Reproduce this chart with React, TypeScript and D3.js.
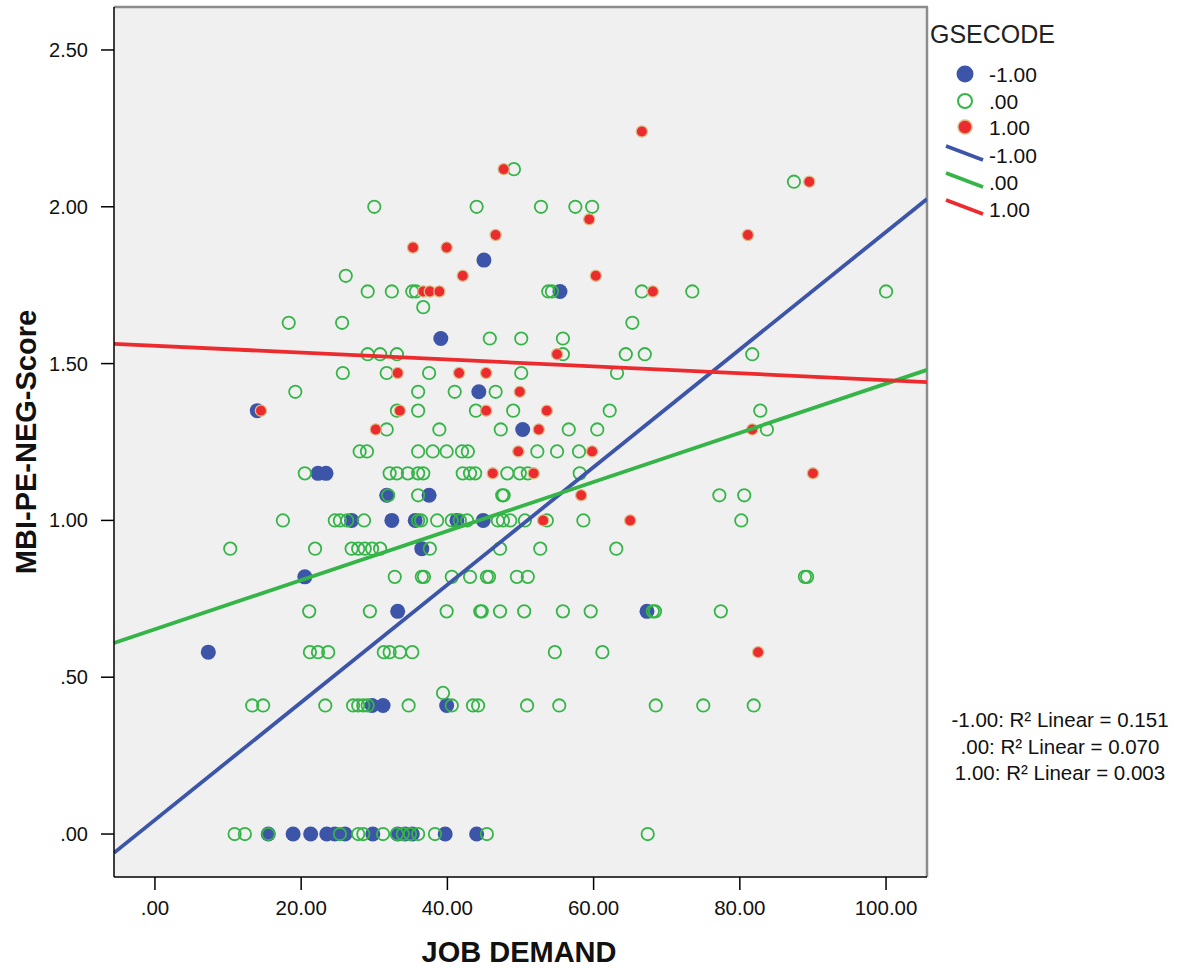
import React from "react";
import * as d3 from "d3";

// ---- data ----
const groupLabels = ["-1.00", ".00", "1.00"];
const groupColors = ["#3d55a8", "#35b548", "#ec2b2f"];

// GSECODE = -1.00 (filled blue)
const pointsNeg: [number, number][] = [
  [15.5, 0], [18.9, 0], [21.3, 0], [23.5, 0], [24.6, 0], [26.0, 0], [29.8, 0], [33.2, 0], [34.2, 0], [35.2, 0], [39.7, 0], [44.0, 0],
  [29.7, 0.41], [31.2, 0.41], [39.9, 0.41],
  [7.3, 0.58],
  [33.2, 0.71], [67.3, 0.71],
  [20.5, 0.82],
  [36.5, 0.91],
  [26.9, 1.0], [32.4, 1.0], [35.6, 1.0], [41.3, 1.0], [44.9, 1.0],
  [31.7, 1.08], [37.5, 1.08],
  [22.3, 1.15], [23.4, 1.15],
  [50.3, 1.29],
  [14.0, 1.35],
  [44.3, 1.41],
  [39.1, 1.58],
  [55.4, 1.73],
  [45.0, 1.83],
];

// GSECODE = .00 (open green)
const pointsZero: [number, number][] = [
  [10.9, 0], [12.3, 0], [15.5, 0], [25.3, 0], [27.8, 0], [28.5, 0], [31.2, 0], [33.1, 0], [33.9, 0], [34.9, 0], [36.0, 0], [38.3, 0], [45.4, 0], [67.4, 0],
  [39.4, 0.45],
  [13.3, 0.41], [14.8, 0.41], [23.3, 0.41], [27.1, 0.41], [27.8, 0.41], [28.5, 0.41], [29.1, 0.41], [34.7, 0.41], [40.6, 0.41], [43.5, 0.41], [44.2, 0.41], [50.9, 0.41], [55.3, 0.41], [68.5, 0.41], [75.0, 0.41], [81.9, 0.41],
  [21.2, 0.58], [22.3, 0.58], [23.7, 0.58], [31.3, 0.58], [32.1, 0.58], [33.5, 0.58], [35.2, 0.58], [54.7, 0.58], [61.2, 0.58],
  [21.1, 0.71], [29.4, 0.71], [39.9, 0.71], [44.5, 0.71], [44.7, 0.71], [47.2, 0.71], [50.5, 0.71], [55.8, 0.71], [59.6, 0.71], [68.1, 0.71], [68.4, 0.71], [77.4, 0.71],
  [32.8, 0.82], [36.5, 0.82], [36.8, 0.82], [40.6, 0.82], [43.1, 0.82], [45.4, 0.82], [45.7, 0.82], [49.5, 0.82], [51.0, 0.82], [88.9, 0.82], [89.2, 0.82],
  [10.3, 0.91], [21.9, 0.91], [26.9, 0.91], [27.8, 0.91], [28.7, 0.91], [29.7, 0.91], [30.8, 0.91], [37.6, 0.91], [47.2, 0.91], [52.7, 0.91], [63.1, 0.91],
  [17.5, 1.0], [24.6, 1.0], [25.3, 1.0], [26.3, 1.0], [28.6, 1.0], [36.0, 1.0], [36.4, 1.0], [38.6, 1.0], [40.6, 1.0], [41.7, 1.0], [42.7, 1.0], [46.9, 1.0], [47.6, 1.0], [48.6, 1.0], [50.6, 1.0], [53.6, 1.0], [58.6, 1.0], [80.2, 1.0],
  [31.9, 1.08], [36.0, 1.08], [47.5, 1.08], [47.7, 1.08], [77.2, 1.08], [80.6, 1.08],
  [20.5, 1.15], [32.1, 1.15], [33.1, 1.15], [34.6, 1.15], [36.0, 1.15], [36.7, 1.15], [42.1, 1.15], [43.1, 1.15], [43.8, 1.15], [48.2, 1.15], [49.9, 1.15], [51.0, 1.15], [58.1, 1.15],
  [28.0, 1.22], [29.0, 1.22], [36.0, 1.22], [38.0, 1.22], [39.9, 1.22], [42.0, 1.22], [42.8, 1.22], [52.3, 1.22], [55.0, 1.22], [58.0, 1.22],
  [31.7, 1.29], [38.9, 1.29], [47.3, 1.29], [56.6, 1.29], [60.5, 1.29], [83.7, 1.29],
  [33.1, 1.35], [36.0, 1.35], [43.9, 1.35], [49.0, 1.35], [62.2, 1.35], [82.8, 1.35],
  [19.2, 1.41], [36.0, 1.41], [41.0, 1.41], [46.6, 1.41],
  [25.7, 1.47], [31.7, 1.47], [37.5, 1.47], [50.1, 1.47], [63.2, 1.47],
  [29.1, 1.53], [30.8, 1.53], [33.1, 1.53], [55.8, 1.53], [64.4, 1.53], [67.0, 1.53], [81.7, 1.53],
  [45.8, 1.58], [50.1, 1.58], [55.8, 1.58],
  [18.3, 1.63], [25.6, 1.63], [65.3, 1.63],
  [36.7, 1.68],
  [29.1, 1.73], [32.4, 1.73], [35.2, 1.73], [35.7, 1.73], [53.8, 1.73], [54.3, 1.73], [66.6, 1.73], [73.5, 1.73], [100.0, 1.73],
  [26.1, 1.78],
  [30.0, 2.0], [44.0, 2.0], [52.8, 2.0], [57.5, 2.0], [59.8, 2.0],
  [87.4, 2.08],
  [49.1, 2.12],
];

// GSECODE = 1.00 (filled red)
const pointsPos: [number, number][] = [
  [82.5, 0.58],
  [53.1, 1.0], [65.0, 1.0],
  [58.3, 1.08],
  [46.2, 1.15], [51.8, 1.15], [90.0, 1.15],
  [49.7, 1.22], [59.8, 1.22],
  [30.2, 1.29], [52.5, 1.29], [81.7, 1.29],
  [14.5, 1.35], [33.5, 1.35], [45.3, 1.35], [53.6, 1.35],
  [49.9, 1.41],
  [33.2, 1.47], [41.6, 1.47], [45.3, 1.47],
  [55.0, 1.53],
  [36.7, 1.73], [37.6, 1.73], [38.9, 1.73], [68.1, 1.73],
  [42.1, 1.78], [60.3, 1.78],
  [35.3, 1.87], [39.9, 1.87],
  [46.6, 1.91], [81.1, 1.91],
  [59.4, 1.96],
  [89.5, 2.08],
  [47.7, 2.12],
  [66.6, 2.24],
];

// fitted lines (intercept, slope)
const fitIntercepts = [0.045, 0.653, 1.557];
const fitSlopes = [0.01875, 0.00783, -0.0011];
const r2Values = ["0.151", "0.070", "0.003"];

const xTicks = [0, 20, 40, 60, 80, 100];
const yTicks = [0, 0.5, 1, 1.5, 2, 2.5];
const xDomain: [number, number] = [-5.6, 105.6];
const yDomain: [number, number] = [-0.137, 2.637];

const FONT = "'Liberation Sans', Arial, Helvetica, sans-serif";

const spssFmt = (v: number) => {
  const s = d3.format(".2f")(v);
  return s.startsWith("0.") ? s.slice(1) : s;
};

export default function App() {
  const W = 1180;
  const H = 968;
  const left = 114, right = 927, top = 7, bottom = 877;
  const x = d3.scaleLinear().domain(xDomain).range([left, right]);
  const y = d3.scaleLinear().domain(yDomain).range([bottom, top]);

  const lineGen = d3
    .line<[number, number]>()
    .x((d) => x(d[0]))
    .y((d) => y(d[1]));

  const fitPaths = fitIntercepts.map((b, i) => {
    const pts: [number, number][] = [xDomain[0], xDomain[1]].map((xv) => [xv, b + fitSlopes[i] * xv]);
    return lineGen(pts) as string;
  });

  const legendMarkerY = [74, 101, 127];
  const legendLineY = [155, 182, 209];

  return (
    <div style={{ position: "fixed", left: 0, top: 0, width: W, height: H, background: "#fff" }}>
      <svg width={W} height={H} style={{ display: "block" }} fontFamily={FONT}>
        <defs>
          <clipPath id="plotClip">
            <rect x={left} y={top} width={right - left} height={bottom - top} />
          </clipPath>
        </defs>
        {/* plot background */}
        <rect x={left} y={top} width={right - left} height={bottom - top} fill="#f0f0f0" />
        <line x1={left} x2={right + 1} y1={top} y2={top} stroke="#8c8c8c" strokeWidth={2.5} />
        <line x1={right} x2={right} y1={top} y2={bottom} stroke="#8c8c8c" strokeWidth={2.5} />

        {/* points */}
        <g>
          {pointsNeg.map((d, i) => (
            <circle key={"b" + i} cx={x(d[0])} cy={y(d[1])} r={7.5} fill={groupColors[0]} />
          ))}
          {pointsZero.map((d, i) => (
            <circle key={"g" + i} cx={x(d[0])} cy={y(d[1])} r={6.2} fill="none" stroke={groupColors[1]} strokeWidth={1.8} />
          ))}
          {pointsPos.map((d, i) => (
            <circle key={"r" + i} cx={x(d[0])} cy={y(d[1])} r={5.6} fill={groupColors[2]} stroke="#dcbc86" strokeWidth={1.3} />
          ))}
        </g>

        {/* fit lines */}
        <g clipPath="url(#plotClip)">
          {fitPaths.map((p, i) => (
            <path key={i} d={p} fill="none" stroke={groupColors[i]} strokeWidth={3.8} />
          ))}
        </g>

        {/* axes */}
        <line x1={left} x2={left} y1={top} y2={bottom} stroke="#000" strokeWidth={1.5} />
        <line x1={left} x2={right} y1={bottom} y2={bottom} stroke="#000" strokeWidth={1.5} />
        {yTicks.map((t) => (
          <g key={"yt" + t}>
            <line x1={left - 13} x2={left} y1={y(t)} y2={y(t)} stroke="#000" strokeWidth={1.5} />
            <text x={88} y={y(t)} dy="0.35em" textAnchor="end" fontSize={20} fill="#111">
              {spssFmt(t)}
            </text>
          </g>
        ))}
        {xTicks.map((t) => (
          <g key={"xt" + t}>
            <line x1={x(t)} x2={x(t)} y1={bottom} y2={bottom + 13} stroke="#000" strokeWidth={1.5} />
            <text x={x(t)} y={908} dy="0.35em" textAnchor="middle" fontSize={20.5} fill="#111">
              {spssFmt(t)}
            </text>
          </g>
        ))}

        {/* axis titles */}
        <text x={519} y={962} textAnchor="middle" fontSize={29} fontWeight="bold" fill="#111">
          JOB DEMAND
        </text>
        <text
          transform={`translate(36, 442) rotate(-90)`}
          textAnchor="middle"
          fontSize={29}
          fontWeight="bold"
          fill="#111"
        >
          MBI-PE-NEG-Score
        </text>

        {/* legend */}
        <text x={930} y={43} fontSize={25} fill="#222">
          GSECODE
        </text>
        {groupLabels.map((g, i) => (
          <g key={"lm" + i}>
            {i === 0 && <circle cx={965} cy={legendMarkerY[i]} r={8.5} fill={groupColors[0]} />}
            {i === 1 && (
              <circle cx={965} cy={legendMarkerY[i]} r={7} fill="none" stroke={groupColors[1]} strokeWidth={2} />
            )}
            {i === 2 && (
              <circle cx={965} cy={legendMarkerY[i]} r={7} fill={groupColors[2]} stroke="#dcbc86" strokeWidth={1.5} />
            )}
            <text x={989} y={legendMarkerY[i]} dy="0.36em" fontSize={21} fill="#111">
              {g}
            </text>
          </g>
        ))}
        {groupLabels.map((g, i) => (
          <g key={"ll" + i}>
            <line
              x1={946}
              y1={legendLineY[i] - 9}
              x2={983}
              y2={legendLineY[i] + 5}
              stroke={groupColors[i]}
              strokeWidth={3.8}
            />
            <text x={989} y={legendLineY[i]} dy="0.36em" fontSize={21} fill="#111">
              {g}
            </text>
          </g>
        ))}

        {/* R² annotations */}
        {groupLabels.map((g, i) => (
          <text key={"r2" + i} x={1060} y={720 + i * 26.5} dy="0.36em" textAnchor="middle" fontSize={20.5} fill="#111">
            {`${g}: R² Linear = ${r2Values[i]}`}
          </text>
        ))}
      </svg>
    </div>
  );
}
